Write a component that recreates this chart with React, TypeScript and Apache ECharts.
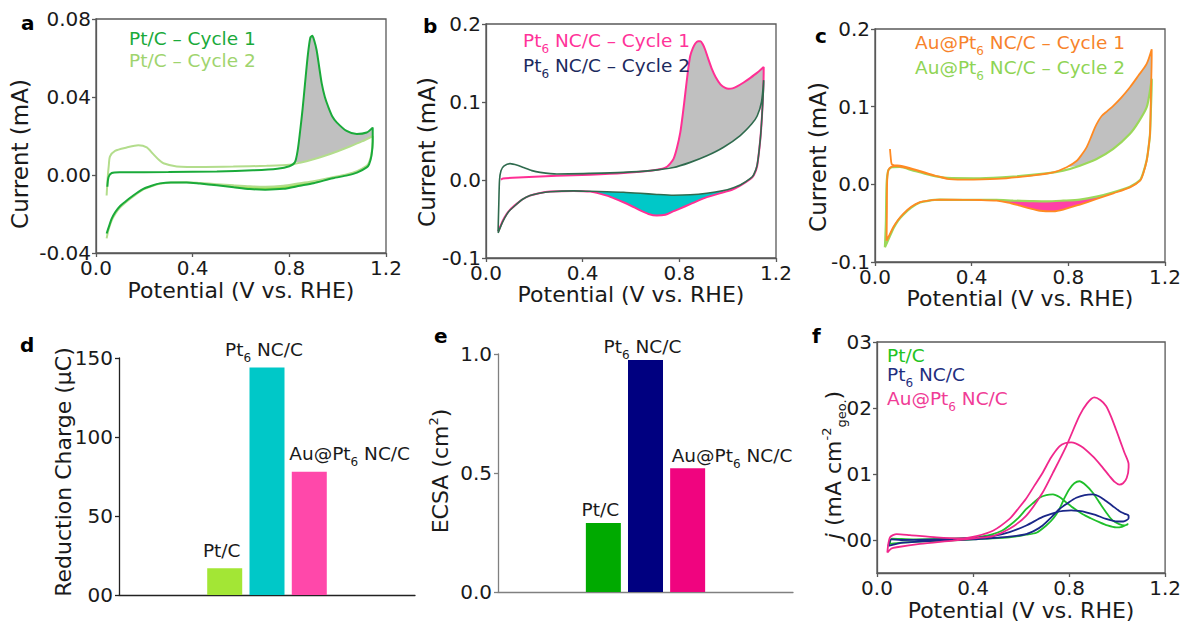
import React, { useEffect, useRef } from "react";
import * as echarts from "echarts";

const FONT = "DejaVu Sans";
const TXT = "#1a1a1a";
const AXIS = "#595959";
const GRAY_FILL = "#c0c0c0";

// ---------- tick labels ----------
const cvXTicks = ["0.0", "0.4", "0.8", "1.2"];
const aYTicks = ["-0.04", "0.00", "0.04", "0.08"];
const bYTicks = ["-0.1", "0.0", "0.1", "0.2"];
const cYTicks = ["-0.1", "0.0", "0.1", "0.2"];
const dYTicks = ["00", "50", "100", "150"];
const eYTicks = ["0.0", "0.5", "1.0"];
const fYTickValues = [0, 0.01, 0.02, 0.03];
const fYTicks = ["00", "01", "02", "03"];

// ---------- panel a : Pt/C ----------
const aNames = ["Pt/C – Cycle 1", "Pt/C – Cycle 2"];
const aLineColors = ["#1aaa3a", "#b3dd8c"];
const aTextColors = ["#1aaa3a", "#9fd46e"];
const aC1Anodic = [[0.047,-0.006],[0.052,-0.001],[0.065,0.001],[0.1,0.0014],[0.3,0.0015],[0.5,0.0018],[0.65,0.0024],[0.75,0.0032],[0.8,0.0045],[0.823,0.0065],[0.835,0.013],[0.844,0.0218],[0.855,0.034],[0.865,0.047],[0.877,0.062],[0.887,0.0705],[0.895,0.0714],[0.903,0.069],[0.913,0.064],[0.924,0.055],[0.934,0.047],[0.947,0.04],[0.961,0.035],[0.978,0.03],[0.996,0.027],[1.037,0.0226],[1.079,0.021],[1.12,0.0218],[1.145,0.0243]];
const aC1Cathodic = [[1.145,0.017],[1.14,0.0099],[1.13,0.0055],[1.12,0.0039],[1.08,0.0012],[1.04,-0.0002],[0.98,-0.0017],[0.9,-0.0042],[0.844,-0.0055],[0.775,-0.0071],[0.7,-0.0075],[0.637,-0.0072],[0.57,-0.0063],[0.5,-0.0053],[0.43,-0.0044],[0.375,-0.0038],[0.31,-0.0038],[0.265,-0.0043],[0.23,-0.0055],[0.196,-0.0071],[0.154,-0.0105],[0.12,-0.0138],[0.099,-0.016],[0.08,-0.019],[0.065,-0.0224],[0.052,-0.027],[0.044,-0.03]];
const aC2Anodic = [[0.044,-0.0105],[0.048,-0.002],[0.053,0.005],[0.058,0.0095],[0.079,0.0124],[0.127,0.0141],[0.175,0.0153],[0.21,0.0142],[0.237,0.0107],[0.26,0.0078],[0.279,0.006],[0.334,0.0044],[0.45,0.0041],[0.568,0.0043],[0.706,0.0047],[0.8,0.0052],[0.844,0.0063],[0.9,0.0081],[0.95,0.01],[1.0,0.0122],[1.05,0.0146],[1.1,0.0172],[1.145,0.02]];
const aC2Cathodic = [[1.145,0.0185],[1.14,0.011],[1.13,0.0065],[1.12,0.0047],[1.08,0.002],[1.04,0.0004],[0.98,-0.0012],[0.9,-0.0032],[0.844,-0.0042],[0.775,-0.0055],[0.7,-0.006],[0.637,-0.0058],[0.57,-0.0053],[0.5,-0.0047],[0.43,-0.0041],[0.375,-0.0037],[0.31,-0.0038],[0.265,-0.0045],[0.23,-0.0058],[0.196,-0.0074],[0.154,-0.011],[0.12,-0.0143],[0.099,-0.0167],[0.08,-0.0198],[0.065,-0.0233],[0.052,-0.028],[0.044,-0.0325]];
const aOxRange = [0.823, 1.145];
const aRedRange = [0.5, 1.0];

// ---------- panel b : Pt6 NC/C ----------
const bNames = ["Pt₆ NC/C – Cycle 1", "Pt₆ NC/C – Cycle 2"];
const bLineColors = ["#ff2f94", "#2f6b4e"];
const bTextColors = ["#ff3399", "#1c2a5e"];
const bC1Anodic = [[0.062,0.0005],[0.07,0.002],[0.155,0.0034],[0.293,0.0055],[0.431,0.0068],[0.569,0.0089],[0.68,0.012],[0.73,0.0145],[0.749,0.017],[0.762,0.021],[0.776,0.027],[0.79,0.041],[0.804,0.061],[0.815,0.086],[0.825,0.112],[0.835,0.138],[0.845,0.159],[0.856,0.169],[0.866,0.175],[0.877,0.178],[0.887,0.178],[0.897,0.174],[0.907,0.167],[0.92,0.155],[0.935,0.142],[0.95,0.132],[0.97,0.1226],[0.99,0.118],[1.004,0.117],[1.02,0.1175],[1.039,0.12],[1.066,0.125],[1.094,0.131],[1.12,0.137],[1.149,0.145]];
const bC1Cathodic = [[1.149,0.14],[1.147,0.115],[1.142,0.082],[1.135,0.052],[1.122,0.018],[1.108,0.006],[1.094,0.0013],[1.052,-0.0072],[1.018,-0.0125],[0.983,-0.0157],[0.914,-0.022],[0.845,-0.031],[0.8,-0.037],[0.776,-0.04],[0.742,-0.0445],[0.707,-0.0455],[0.672,-0.0435],[0.638,-0.039],[0.6,-0.033],[0.569,-0.0285],[0.53,-0.0235],[0.5,-0.02],[0.431,-0.0149],[0.362,-0.014],[0.265,-0.0149],[0.22,-0.017],[0.182,-0.02],[0.15,-0.025],[0.127,-0.0306],[0.1,-0.038],[0.086,-0.0434],[0.07,-0.052],[0.055,-0.0626],[0.05,-0.066]];
const bC2Anodic = [[0.05,-0.066],[0.053,-0.03],[0.056,0.0],[0.062,0.012],[0.075,0.018],[0.1,0.021],[0.13,0.019],[0.155,0.016],[0.19,0.012],[0.224,0.0098],[0.293,0.0077],[0.431,0.0085],[0.569,0.0098],[0.68,0.012],[0.776,0.016],[0.845,0.0226],[0.914,0.031],[0.983,0.042],[1.052,0.057],[1.1,0.072],[1.122,0.082],[1.14,0.1],[1.149,0.128]];
const bC2Cathodic = [[1.149,0.125],[1.147,0.11],[1.142,0.082],[1.135,0.052],[1.122,0.019],[1.108,0.007],[1.094,0.002],[1.052,-0.0065],[1.018,-0.0105],[0.983,-0.0135],[0.914,-0.017],[0.845,-0.019],[0.776,-0.0195],[0.707,-0.0185],[0.638,-0.017],[0.569,-0.0157],[0.5,-0.015],[0.431,-0.0145],[0.362,-0.014],[0.265,-0.015],[0.22,-0.017],[0.182,-0.02],[0.15,-0.025],[0.127,-0.031],[0.1,-0.0385],[0.086,-0.044],[0.07,-0.053],[0.055,-0.064],[0.05,-0.068]];
const bOxRange = [0.749, 1.149];
const bRedRange = [0.38, 1.0];

// ---------- panel c : Au@Pt6 NC/C ----------
const cNames = ["Au@Pt₆ NC/C – Cycle 1", "Au@Pt₆ NC/C – Cycle 2"];
const cLineColors = ["#ff8a22", "#9bd85a"];
const cTextColors = ["#f7832b", "#8fd455"];
const cC1Anodic = [[0.062,0.0455],[0.065,0.035],[0.069,0.026],[0.08,0.0245],[0.103,0.024],[0.159,0.0197],[0.228,0.0133],[0.297,0.0069],[0.366,0.006],[0.503,0.0069],[0.641,0.011],[0.738,0.0155],[0.793,0.022],[0.834,0.03],[0.855,0.038],[0.876,0.048],[0.893,0.06],[0.91,0.073],[0.925,0.082],[0.938,0.088],[0.96,0.094],[0.986,0.101],[1.02,0.112],[1.055,0.125],[1.09,0.14],[1.124,0.155],[1.145,0.174]];
const cC1Cathodic = [[1.145,0.165],[1.142,0.12],[1.138,0.065],[1.131,0.045],[1.124,0.03],[1.11,0.014],[1.097,0.0047],[1.055,-0.0039],[0.986,-0.0116],[0.917,-0.0189],[0.848,-0.026],[0.779,-0.0326],[0.738,-0.0348],[0.683,-0.034],[0.64,-0.031],[0.6,-0.0275],[0.55,-0.0235],[0.503,-0.021],[0.44,-0.0202],[0.366,-0.02],[0.269,-0.0197],[0.22,-0.021],[0.186,-0.023],[0.15,-0.029],[0.117,-0.038],[0.095,-0.046],[0.076,-0.055],[0.06,-0.065],[0.048,-0.0725],[0.049,-0.04],[0.05,0.0],[0.053,0.015],[0.06,0.021],[0.08,0.0235],[0.12,0.022],[0.16,0.019],[0.23,0.0125],[0.3,0.0075]];
const cC2Anodic = [[0.041,-0.081],[0.045,-0.05],[0.048,0.0],[0.055,0.018],[0.07,0.022],[0.103,0.0225],[0.159,0.0176],[0.228,0.012],[0.297,0.0082],[0.434,0.0077],[0.572,0.0099],[0.71,0.014],[0.779,0.0176],[0.848,0.024],[0.917,0.0326],[0.986,0.0455],[1.055,0.065],[1.09,0.08],[1.124,0.099],[1.135,0.115],[1.145,0.136]];
const cC2Cathodic = [[1.145,0.13],[1.142,0.1],[1.138,0.065],[1.131,0.045],[1.124,0.031],[1.11,0.015],[1.097,0.0055],[1.055,-0.003],[0.986,-0.0103],[0.917,-0.0159],[0.848,-0.0197],[0.779,-0.021],[0.71,-0.0219],[0.64,-0.0215],[0.572,-0.021],[0.503,-0.02],[0.44,-0.02],[0.366,-0.02],[0.269,-0.0198],[0.22,-0.0212],[0.186,-0.0235],[0.15,-0.03],[0.117,-0.039],[0.095,-0.047],[0.076,-0.057],[0.06,-0.068],[0.041,-0.081]];
const cOxRange = [0.79, 1.145];
const cRedRange = [0.48, 1.0];

// ---------- panel d / e : bars ----------
const barNames = ["Pt/C", "Pt₆ NC/C", "Au@Pt₆ NC/C"];
const dValues = [17, 144, 78];
const eValues = [0.29, 0.975, 0.52];
const dColors = ["#a3e635", "#00c8c8", "#ff48aa"];
const eColors = ["#00aa00", "#000080", "#f0047f"];

// ---------- panel f ----------
const fNames = ["Pt/C", "Pt₆ NC/C", "Au@Pt₆ NC/C"];
const fLineColors = ["#1fbf2a", "#1a2788", "#f0288c"];
const fTextColors = ["#22c322", "#1f2f80", "#f03c96"];
const fPtCFwd = [[0.054,-0.0006],[0.1,-0.0004],[0.2,-0.0002],[0.35,0.0],[0.45,0.0002],[0.552,0.0004],[0.62,0.0008],[0.664,0.0011],[0.705,0.0022],[0.735,0.0033],[0.76,0.0047],[0.78,0.0063],[0.801,0.0077],[0.822,0.0086],[0.843,0.0089],[0.87,0.0083],[0.898,0.0072],[0.926,0.0057],[0.954,0.0042],[0.98,0.003],[1.009,0.0024],[1.03,0.0022],[1.044,0.0024]];
const fPtCRev = [[1.044,0.0025],[1.02,0.002],[0.996,0.0019],[0.96,0.0022],[0.926,0.0027],[0.89,0.0033],[0.857,0.0039],[0.82,0.0048],[0.788,0.0057],[0.76,0.0065],[0.733,0.0069],[0.705,0.0068],[0.677,0.0064],[0.65,0.0056],[0.622,0.0047],[0.59,0.0034],[0.552,0.0022],[0.52,0.0014],[0.483,0.0009],[0.414,0.0004],[0.3,0.0002],[0.15,0.0001],[0.061,0.0002],[0.054,-0.0006]];
const fPt6Fwd = [[0.047,-0.0009],[0.11,-0.0004],[0.25,-0.0001],[0.4,0.0001],[0.483,0.0003],[0.552,0.0005],[0.622,0.0009],[0.66,0.0015],[0.69,0.0022],[0.725,0.0034],[0.76,0.0047],[0.795,0.0056],[0.83,0.0064],[0.865,0.0068],[0.898,0.0069],[0.926,0.0066],[0.954,0.0059],[0.98,0.0052],[1.009,0.0044],[1.03,0.004],[1.048,0.0037]];
const fPt6Rev = [[1.048,0.0033],[1.026,0.0028],[1.0,0.0028],[0.954,0.0032],[0.91,0.0038],[0.871,0.0042],[0.84,0.0044],[0.809,0.0045],[0.775,0.0044],[0.746,0.0042],[0.69,0.0035],[0.622,0.0022],[0.552,0.0012],[0.483,0.0006],[0.4,0.0003],[0.25,0.0001],[0.1,0.0],[0.06,0.0001],[0.047,-0.0009]];
const fAuFwd = [[0.043,-0.0019],[0.06,-0.0013],[0.082,-0.0011],[0.179,-0.0006],[0.317,-0.0001],[0.414,0.0003],[0.483,0.0006],[0.552,0.0017],[0.622,0.0037],[0.69,0.0072],[0.733,0.0102],[0.788,0.0142],[0.843,0.0188],[0.875,0.0207],[0.905,0.0216],[0.93,0.0212],[0.954,0.0203],[0.975,0.0187],[0.996,0.0167],[1.015,0.0148],[1.03,0.0133],[1.048,0.0115]];
const fAuRev = [[1.048,0.011],[1.04,0.0094],[1.025,0.0086],[1.009,0.0084],[0.99,0.0088],[0.968,0.0097],[0.935,0.0112],[0.898,0.0127],[0.85,0.0142],[0.809,0.0148],[0.785,0.0147],[0.76,0.0142],[0.725,0.0125],[0.69,0.0102],[0.655,0.0082],[0.62,0.0062],[0.585,0.0046],[0.552,0.0032],[0.483,0.0014],[0.414,0.0006],[0.345,0.00025],[0.248,0.0004],[0.137,0.00075],[0.082,0.0009],[0.054,0.0004],[0.043,-0.0019]];

// ---------- helpers ----------
const toRich = (s: string) => s.replace(/₆/g, "{s|6}");
// subscript token: tiny box height so rows keep their normal height, padding pushes it down
const richSub = {
  s: { fontSize: 12, fontFamily: FONT, height: 1, padding: [17, 0, 0, 0] },
};

function band(upper: number[][], lower: number[][], range: number[]) {
  const inR = (p: number[]) => p[0] >= range[0] && p[0] <= range[1];
  const a = upper.filter(inR).slice().sort((p, q) => p[0] - q[0]);
  const b = lower.filter(inR).slice().sort((p, q) => q[0] - p[0]);
  return a.concat(b);
}

function fillSeries(idx: number, pts: number[][], color: string) {
  return {
    type: "custom",
    xAxisIndex: idx,
    yAxisIndex: idx,
    silent: true,
    z: 1,
    data: [pts[0]],
    renderItem: (_p: any, api: any) => ({
      type: "polygon",
      shape: { points: pts.map((p) => api.coord(p)) },
      style: { fill: color, stroke: null },
    }),
  };
}

function lineSeries(idx: number, name: string, data: number[][], color: string, width = 2, z = 3) {
  return {
    type: "line",
    name,
    xAxisIndex: idx,
    yAxisIndex: idx,
    data,
    showSymbol: false,
    symbol: "none",
    smooth: 0.25,
    lineStyle: { color, width },
    itemStyle: { color },
    z,
  };
}

const axisCommon = (color: string) => ({
  axisLine: { show: true, onZero: false, lineStyle: { color, width: 1.3 } },
  axisTick: { show: true, inside: false, length: 4, lineStyle: { color, width: 1.3 } },
  splitLine: { show: false },
});

const labelFromTicks = (ticks: string[], min: number, step: number) => (v: number) =>
  ticks[Math.round((v - min) / step)] ?? "";

function cvXAxis(idx: number, gap: number) {
  return {
    type: "value",
    gridIndex: idx,
    min: 0,
    max: 1.2,
    interval: 0.4,
    name: "Potential (V vs. RHE)",
    nameLocation: "middle",
    nameGap: gap,
    nameTextStyle: { fontSize: 22, color: TXT, fontFamily: FONT },
    axisLabel: { fontSize: 20, color: TXT, margin: 5, fontFamily: FONT, formatter: labelFromTicks(cvXTicks, 0, 0.4) },
    ...axisCommon(AXIS),
  };
}

function cvYAxis(idx: number, min: number, max: number, step: number, ticks: string[]) {
  return {
    type: "value",
    gridIndex: idx,
    min,
    max,
    interval: step,
    axisLabel: { fontSize: 20, color: TXT, margin: 5, fontFamily: FONT, formatter: labelFromTicks(ticks, min, step) },
    ...axisCommon(AXIS),
  };
}

function legendFor(names: string[], colors: string[], left: number, firstCenter: number, spacing: number) {
  return {
    orient: "vertical",
    left,
    top: firstCenter - spacing / 2,
    padding: 0,
    itemGap: 0,
    icon: "rect",
    itemWidth: 0,
    itemHeight: 0,
    selectedMode: false,
    itemStyle: { opacity: 0 },
    data: names.map((n, i) => ({ name: n, textStyle: { color: colors[i] } })),
    formatter: (n: string) => toRich(n),
    textStyle: { fontSize: 18.5, lineHeight: spacing, fontFamily: FONT, rich: richSub },
  };
}

function barSeries(idx: number, name: string, values: number[], colors: string[], auOffset: number, dist: number) {
  return {
    type: "bar",
    name,
    xAxisIndex: idx,
    yAxisIndex: idx,
    barWidth: 35,
    data: barNames.map((n, i) => ({
      name: n,
      value: [i, values[i]],
      itemStyle: { color: colors[i] },
      label: i === 2 ? { align: "left", offset: [auOffset, 0] } : { offset: [-3, 0] },
    })),
    label: {
      show: true,
      position: "top",
      distance: dist,
      fontSize: 18.5,
      lineHeight: 22,
      color: TXT,
      fontFamily: FONT,
      formatter: (p: any) => toRich(p.name),
      rich: richSub,
    },
  };
}

const richTitle = {
  sup: { fontSize: 13, fontFamily: FONT, fill: TXT, height: 1, padding: [0, 0, 14, 0] },
  sub: { fontSize: 13, fontFamily: FONT, fill: TXT, height: 1, padding: [17, 0, 0, 0] },
  i: { fontSize: 22, fontFamily: FONT, fill: TXT, fontStyle: "italic" },
};

function yTitle(text: string, x: number, y: number, size: number) {
  return {
    type: "text",
    x,
    y,
    rotation: Math.PI / 2,
    silent: true,
    style: {
      text,
      fontSize: size,
      fontFamily: FONT,
      fill: TXT,
      align: "center",
      verticalAlign: "middle",
      rich: richTitle,
    },
  };
}

function letter(t: string, x: number, y: number) {
  return {
    type: "text",
    x,
    y,
    silent: true,
    style: { text: t, fontSize: 20, fontWeight: "bold", fontFamily: FONT, fill: "#000", align: "left", verticalAlign: "middle" },
  };
}

function buildOption() {
  const grids = [
    { left: 96, top: 19, width: 290, height: 234 },
    { left: 486, top: 24, width: 290, height: 234 },
    { left: 875, top: 29, width: 290, height: 233 },
    { left: 119, top: 358, width: 296, height: 237 },
    { left: 498, top: 354, width: 295, height: 238 },
    { left: 877, top: 342, width: 289, height: 231 },
  ].map((g, i) => ({
    ...g,
    containLabel: false,
    show: i !== 3 && i !== 4,
    borderColor: AXIS,
    borderWidth: 1.3,
    backgroundColor: "transparent",
  }));

  const barX = (idx: number, color: string) => ({
    type: "value",
    gridIndex: idx,
    min: -2.5,
    max: 4.5,
    axisLabel: { show: false },
    axisTick: { show: false },
    axisLine: { show: true, onZero: false, lineStyle: { color, width: 1.3 } },
    splitLine: { show: false },
  });

  const xAxis = [
    cvXAxis(0, 26),
    cvXAxis(1, 22),
    cvXAxis(2, 21),
    barX(3, "#222"),
    barX(4, "#808080"),
    cvXAxis(5, 26),
  ];

  const yAxis = [
    cvYAxis(0, -0.04, 0.08, 0.04, aYTicks),
    cvYAxis(1, -0.1, 0.2, 0.1, bYTicks),
    cvYAxis(2, -0.1, 0.2, 0.1, cYTicks),
    {
      type: "value",
      gridIndex: 3,
      min: 0,
      max: 150,
      interval: 50,
      axisLabel: { fontSize: 20, color: TXT, margin: 6, fontFamily: FONT, formatter: labelFromTicks(dYTicks, 0, 50) },
      ...axisCommon("#222"),
    },
    {
      type: "value",
      gridIndex: 4,
      min: 0,
      max: 1,
      interval: 0.5,
      axisLabel: { fontSize: 20, color: TXT, margin: 6, fontFamily: FONT, formatter: labelFromTicks(eYTicks, 0, 0.5) },
      ...axisCommon("#808080"),
    },
    {
      type: "value",
      gridIndex: 5,
      min: -0.005,
      max: 0.03,
      axisLabel: {
        fontSize: 20,
        color: TXT,
        margin: 5,
        fontFamily: FONT,
        customValues: fYTickValues,
        formatter: (v: number) => fYTicks[Math.round(v / 0.01)] ?? "",
      },
      ...axisCommon(AXIS),
      axisTick: { show: true, inside: false, length: 4, customValues: fYTickValues, lineStyle: { color: AXIS, width: 1.3 } },
    },
  ];

  const series: any[] = [
    // panel a
    fillSeries(0, band(aC1Anodic, aC2Anodic, aOxRange), GRAY_FILL),
    fillSeries(0, band(aC2Cathodic, aC1Cathodic, aRedRange), "#9fe34f"),
    lineSeries(0, aNames[1], aC2Anodic.concat(aC2Cathodic), aLineColors[1], 2, 3),
    lineSeries(0, aNames[0], aC1Anodic.concat(aC1Cathodic), aLineColors[0], 2, 4),
    // panel b
    fillSeries(1, band(bC1Anodic, bC2Anodic, bOxRange), GRAY_FILL),
    fillSeries(1, band(bC2Cathodic, bC1Cathodic, bRedRange), "#00c8c8"),
    lineSeries(1, bNames[0], bC1Anodic.concat(bC1Cathodic), bLineColors[0], 2, 3),
    lineSeries(1, bNames[1], bC2Anodic.concat(bC2Cathodic), bLineColors[1], 1.6, 4),
    // panel c
    fillSeries(2, band(cC1Anodic, cC2Anodic, cOxRange), GRAY_FILL),
    fillSeries(2, band(cC2Cathodic, cC1Cathodic, cRedRange), "#ff40a6"),
    lineSeries(2, cNames[1], cC2Anodic.concat(cC2Cathodic), cLineColors[1], 2.2, 3),
    lineSeries(2, cNames[0], cC1Anodic.concat(cC1Cathodic), cLineColors[0], 1.8, 4),
    // panels d, e
    barSeries(3, "Reduction Charge (μC)", dValues, dColors, -20, 7),
    barSeries(4, "ECSA (cm²)", eValues, eColors, -16, 2),
    // panel f
    lineSeries(5, fNames[0], fPtCFwd.concat(fPtCRev), fLineColors[0], 1.8, 3),
    lineSeries(5, fNames[1], fPt6Fwd.concat(fPt6Rev), fLineColors[1], 1.8, 4),
    lineSeries(5, fNames[2], fAuFwd.concat(fAuRev), fLineColors[2], 1.8, 5),
  ];

  const legend = [
    legendFor(aNames, aTextColors, 124, 38, 22),
    legendFor(bNames, bTextColors, 518, 40, 22),
    legendFor(cNames, cTextColors, 910, 42, 21),
    legendFor(fNames, fTextColors, 882, 355, 18.5),
  ];

  const graphic = [
    letter("a", 21, 23),
    letter("b", 423, 26),
    letter("c", 815, 36),
    letter("d", 20, 345),
    letter("e", 434, 336),
    letter("f", 812, 336),
    yTitle("Current (mA)", 20, 154, 23),
    yTitle("Current (mA)", 427, 152, 23),
    yTitle("Current (mA)", 818, 157, 23),
    yTitle("Reduction Charge (μC)", 63, 472, 22),
    yTitle("ECSA (cm{sup|2})", 440, 471, 22),
    yTitle("{i|j} (mA cm{sup|-2}{sub|geo.})", 833, 465, 22),
  ];

  return {
    animation: false,
    backgroundColor: "#fff",
    textStyle: { fontFamily: FONT },
    grid: grids,
    xAxis,
    yAxis,
    legend,
    graphic,
    series,
  };
}

export default function App() {
  const ref = useRef<HTMLDivElement>(null);
  useEffect(() => {
    if (!ref.current) return;
    const chart = echarts.init(ref.current, undefined, { renderer: "svg" });
    chart.setOption(buildOption() as any);
    return () => chart.dispose();
  }, []);
  return (
    <div
      ref={ref}
      style={{ position: "fixed", left: 0, top: 0, width: 1184, height: 626, background: "#fff" }}
    />
  );
}
